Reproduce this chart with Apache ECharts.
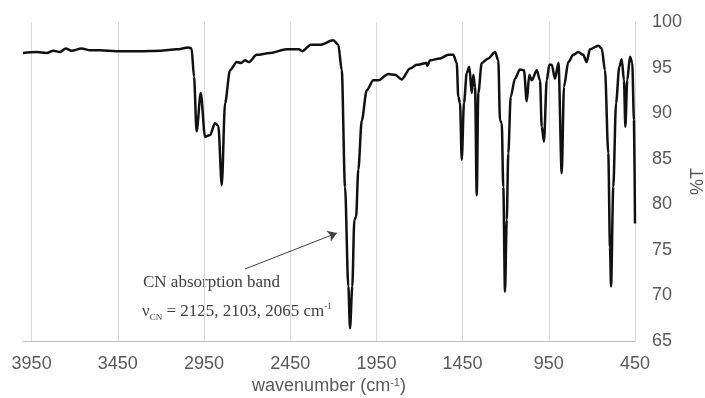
<!DOCTYPE html>
<html lang="en">
<head>
  <meta charset="UTF-8">
  <title>IR spectrum</title>
  <style>
    html, body { margin: 0; padding: 0; background: #fff; }
    #chart { width: 705px; height: 398px; }
  </style>
  <script src="https://cdn.jsdelivr.net/npm/echarts@6.0.0/dist/echarts.min.js"></script>
</head>
<body>
<div id="chart"></div>
<script>
  // wavenumber (cm-1) from left to right
  const wavenumber = [
    4000, 3921, 3863, 3824, 3785, 3752, 3718, 3660, 3611, 3553, 3457, 3321, 3205, 3108, 3041, 3022,
    3008, 2993, 2969, 2944, 2915, 2886, 2867, 2847, 2828, 2799, 2760, 2735, 2712, 2690, 2644, 2567,
    2470, 2450, 2400, 2380, 2330, 2277, 2200, 2171, 2151, 2132, 2113, 2103, 2090, 2078, 2068, 2055,
    2035, 2006, 1968, 1939, 1881, 1842, 1803, 1755, 1716, 1660, 1655, 1639, 1581, 1533, 1504, 1484,
    1475, 1465, 1455, 1442, 1426, 1411, 1397, 1388, 1378, 1368, 1359, 1339, 1301, 1262, 1243, 1233,
    1223, 1214, 1204, 1194, 1185, 1171, 1146, 1117, 1094, 1078, 1063, 1049, 1020, 1001, 991, 978,
    962, 947, 933, 914, 894, 875, 862, 837, 808, 779, 750, 731, 711, 663, 643, 624,
    605, 595, 589, 576, 560, 541, 527, 514, 506, 495, 479, 466, 456, 450
  ];
  // transmittance (%T)
  const transmittance = [
    96.6, 96.7, 96.6, 96.85, 96.7, 97.1, 96.85, 97.1, 96.9, 96.9, 96.8, 96.8, 96.85, 97.0, 97.2, 97.1,
    94.0, 88.0, 92.2, 87.4, 87.6, 88.9, 88.6, 82.1, 91.1, 94.7, 95.6, 95.5, 95.8, 95.6, 96.4, 96.6,
    97.0, 97.0, 97.0, 96.8, 97.5, 97.5, 98.0, 97.5, 94.7, 81.9, 71.0, 66.4, 71.0, 78.3, 78.6, 83.8,
    89.2, 92.5, 93.6, 93.6, 94.3, 94.2, 93.7, 94.9, 95.3, 95.5, 95.2, 95.8, 96.0, 96.4, 96.4, 95.5,
    91.8, 91.1, 84.9, 91.1, 94.4, 95.1, 92.2, 94.2, 92.9, 81.0, 92.2, 95.5, 96.0, 96.7, 95.8, 89.2,
    88.9, 81.9, 70.4, 78.3, 85.6, 91.8, 93.8, 94.8, 94.7, 91.3, 94.2, 93.6, 94.7, 93.6, 88.5, 86.9,
    93.6, 95.3, 95.3, 93.8, 95.5, 83.4, 92.9, 95.6, 96.4, 96.7, 96.4, 95.6, 97.0, 97.4, 97.1, 94.7,
    85.6, 75.3, 71.0, 81.9, 91.1, 95.1, 95.9, 93.6, 88.5, 93.6, 96.2, 95.5, 89.2, 77.9
  ];
  // axis limits
  const xRange = [450, 4000];
  const yRange = [65, 100];
  // annotation arrow (tail, head) in data units
  const arrowFrom = [2712, 72.9];
  const arrowTo = [2179, 76.85];

  const chart = echarts.init(document.getElementById('chart'));
  const labelColor = '#595959';

  chart.setOption({
    animation: false,
    grid: { left: 23, right: 70, top: 22, bottom: 57, outerBoundsMode: 'none', containLabel: false },
    xAxis: {
      type: 'value',
      inverse: true,
      min: xRange[0],
      max: xRange[1],
      interval: 500,
      name: 'wavenumber (cm{p|-1})',
      nameLocation: 'middle',
      nameGap: 36,
      nameMoveOverlap: false,
      nameTextStyle: {
        color: labelColor, fontSize: 18, fontFamily: 'Liberation Sans',
        rich: { p: { fontSize: 11, verticalAlign: 'top', color: labelColor, fontFamily: 'Liberation Sans' } }
      },
      axisLine: { show: true, lineStyle: { color: '#bfbfbf', width: 1 } },
      axisTick: { show: false },
      axisLabel: {
        color: labelColor, fontSize: 18, fontFamily: 'Liberation Sans', margin: 14,
        showMaxLabel: false,
        formatter: v => String(v)
      },
      splitLine: { show: true, showMaxLine: false, lineStyle: { color: '#d9d9d9', width: 1 } }
    },
    yAxis: {
      type: 'value',
      position: 'right',
      min: yRange[0],
      max: yRange[1],
      interval: 5,
      name: '%T',
      nameLocation: 'middle',
      nameRotate: 90,
      nameGap: 54,
      nameMoveOverlap: false,
      nameTextStyle: { color: labelColor, fontSize: 18, fontFamily: 'Liberation Sans' },
      axisLine: { show: false },
      axisTick: { show: false },
      axisLabel: { color: labelColor, fontSize: 18, fontFamily: 'Liberation Sans', margin: 17 },
      splitLine: { show: false }
    },
    series: [{
      type: 'line',
      data: wavenumber.map((w, i) => [w, transmittance[i]]),
      showSymbol: false,
      symbol: 'none',
      smooth: 0.3,
      smoothMonotone: 'x',
      lineStyle: { color: '#111', width: 2.5 },
      markLine: {
        silent: true,
        symbol: ['none', 'arrow'],
        symbolSize: 9,
        label: { show: false },
        lineStyle: { color: '#404040', width: 1, type: 'solid' },
        data: [[{ coord: arrowFrom }, { coord: arrowTo }]]
      }
    }],
    graphic: [
      {
        type: 'text', left: 143, top: 274,
        style: { text: 'CN absorption band', fill: '#404040', font: '17px "Liberation Serif"' }
      },
      {
        type: 'text', left: 142, top: 302,
        style: {
          text: '{n|ν}{s|CN}{n| = 2125, 2103, 2065 cm}{p|-1}',
          fill: '#404040',
          rich: {
            n: { fontSize: 17, fontFamily: 'Liberation Serif', fill: '#404040', lineHeight: 20 },
            s: { fontSize: 9, fontFamily: 'Liberation Serif', fill: '#404040', verticalAlign: 'bottom', lineHeight: 20 },
            p: { fontSize: 9, fontFamily: 'Liberation Serif', fill: '#404040', verticalAlign: 'top', lineHeight: 20 }
          }
        }
      }
    ]
  });
</script>
</body>
</html>
